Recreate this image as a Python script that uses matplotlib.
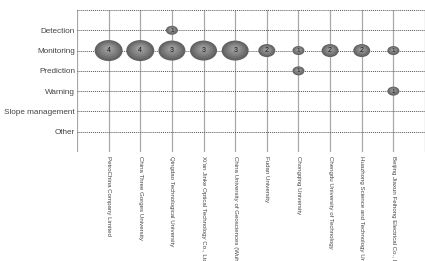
import matplotlib
matplotlib.use("Agg")
import matplotlib.pyplot as plt
import matplotlib.patches as patches

plt.rcParams['font.family'] = ['Liberation Sans', 'DejaVu Sans']

companies = ["PetroChina Company Limited",
             "China Three Gorges University",
             "Qingdao Technological University",
             "Xi'an Jinke Optical Technology Co., Ltd.",
             "China University of Geosciences (Wuhan)",
             "Fudan University",
             "Chongqing University",
             "Chengdu University of Technology",
             "Huazhong Science and Technology University",
             "Beijing Jiaxun Feihong Electrical Co., Ltd."]

categories = ["Detection", "Monitoring", "Prediction", "Warning",
              "Slope management", "Other"]

# one entry per bubble
bub_company = [companies[0], companies[1], companies[2], companies[3], companies[4],
               companies[5], companies[6], companies[7], companies[8], companies[9],
               companies[2], companies[6], companies[9]]
bub_category = ["Monitoring"] * 10 + ["Detection", "Prediction", "Warning"]
bub_value = [4, 4, 3, 3, 3, 2, 1, 2, 2, 1, 1, 1, 1]

# bubble size in pixels (w, h) by value
bubble_px = {1: (12, 9), 2: (17, 13), 3: (27, 20), 4: (28, 21)}

fig = plt.figure(figsize=(4.25, 2.61), dpi=100)
ax = fig.add_axes([77 / 425, 1 - 152 / 261, 348 / 425, 142 / 261])

nx = len(companies)
ny = len(categories)
ax.set_xlim(0, nx + 1)
ax.set_ylim(ny + 1, 0)

px_x = 348 / (nx + 1)
px_y = 142 / (ny + 1)

for s in ax.spines.values():
  s.set_visible(False)

for i in range(nx + 2):
  ax.axvline(i, color='#a8a8a8', lw=0.9, zorder=1)
for j in range(ny + 2):
  ax.axhline(j, color='#555555', lw=0.7, ls=(0, (1, 1)), zorder=2)

ax.set_xticks(range(1, nx + 1))
ax.set_xticklabels(companies, rotation=270, fontsize=4.4, color='#444444',
                   va='top', ha='center')
ax.set_yticks(range(1, ny + 1))
ax.set_yticklabels(categories, fontsize=5.9, color='#444444')
ax.tick_params(length=0, pad=1.5)
ax.tick_params(axis='x', pad=3)

for c, cat, v in zip(bub_company, bub_category, bub_value):
  x = companies.index(c) + 1
  y = categories.index(cat) + 1
  w, h = bubble_px[v]
  w /= px_x
  h /= px_y
  # layered ellipses to fake the shaded look
  shades = ['#626262', '#707070', '#7e7e7e', '#8b8b8b', '#989898']
  for k, col in enumerate(shades):
    f = 1 - k * 0.17
    e = patches.Ellipse((x, y - (1 - f) * h * 0.12), w * f, h * f,
                        facecolor=col, edgecolor='none', zorder=3 + k * 0.01)
    ax.add_patch(e)
  ax.text(x, y, str(v), fontsize=5 if v > 1 else 4.5, ha='center', va='center',
          color='#1a1a1a', zorder=4)

fig.savefig("out.png", dpi=100)
